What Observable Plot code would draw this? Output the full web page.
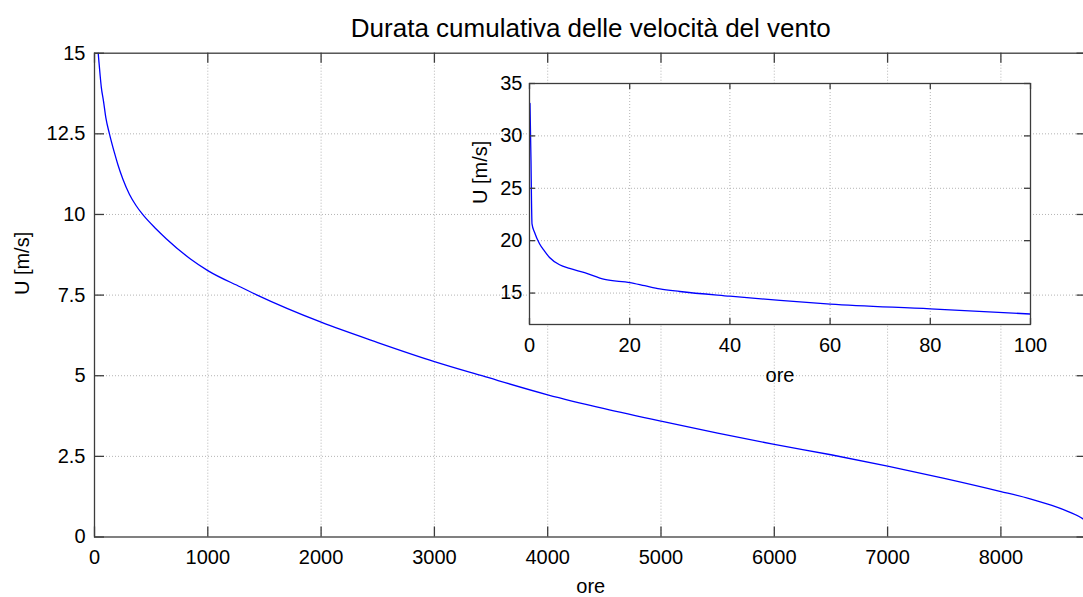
<!DOCTYPE html>
<html>
<head>
<meta charset="utf-8">
<script src="https://cdn.jsdelivr.net/npm/d3@7"></script>
<script src="https://cdn.jsdelivr.net/npm/@observablehq/plot@0.6"></script>
<style>
  html, body { margin: 0; padding: 0; background: white; overflow: hidden; }
  #wrap { position: relative; width: 1083px; height: 597px; overflow: hidden; }
  #inset { position: absolute; left: 440px; top: 60px; }
</style>
</head>
<body>
<div id="wrap"><div id="main"></div><div id="inset"></div></div>
<script>
// ---- data ----
const hours = [0.1, 0.3, 0.4, 0.5, 1, 2, 3, 4, 6, 8, 11, 15, 20, 23, 26, 30, 40, 50, 60, 80, 100,
  132, 177, 206, 250, 309, 368, 425, 544, 633, 847, 1000, 1289, 1436, 2000, 2500, 3000, 3420, 4000, 4500, 5000,
  5500, 6000, 6500, 7000, 7500, 8000, 8250, 8450, 8600, 8730, 8760];
const speed = [33.1, 27.6, 23.8, 21.6, 20.8, 19.7, 19.0, 18.4, 17.7, 17.35, 16.95, 16.3, 16.0, 15.7, 15.4, 15.15, 14.7, 14.3, 13.95, 13.5, 13.0,
  12.5, 11.9, 11.55, 11.1, 10.62, 10.27, 10.0, 9.55, 9.25, 8.62, 8.26, 7.75, 7.5, 6.66, 6.03, 5.44, 5.0, 4.41, 3.98, 3.59,
  3.22, 2.87, 2.55, 2.20, 1.82, 1.41, 1.19, 0.98, 0.78, 0.55, 0.47];

const mainXTicks = [0, 1000, 2000, 3000, 4000, 5000, 6000, 7000, 8000];
const mainYTicks = [0, 2.5, 5, 7.5, 10, 12.5, 15];
const mainYTickLabels = ["0", "2.5", "5", "7.5", "10", "12.5", "15"];
const insetXTicks = [0, 20, 40, 60, 80, 100];
const insetYTicks = [15, 20, 25, 30, 35];

const title = "Durata cumulativa delle velocità del vento";
const xLabel = "ore";
const yLabel = "U [m/s]";

const data = hours.map((h, i) => ({h, u: speed[i]}));
const insetData = data.filter(d => d.h <= 100);

const FONT = "'Liberation Sans', Arial, Helvetica, sans-serif";
const gridStyle = {stroke: "#b4b4b4", strokeWidth: 1, strokeDasharray: "1,2"};
const axisColor = "#3c3c3c";
const lineStyle = {stroke: "#0000ff", strokeWidth: 1.3, curve: "monotone-x", clip: true};

// ---- main chart ----
const M = {left: 94, right: 13.5, top: 52.7, bottom: 60.5, width: 1100, height: 597};
const MW = M.width - M.left - M.right, MH = M.height - M.top - M.bottom;

const mainPlot = Plot.plot({
  width: M.width, height: M.height,
  marginLeft: M.left, marginRight: M.right, marginTop: M.top, marginBottom: M.bottom,
  x: {domain: [0, 8760], axis: null},
  y: {domain: [0, 15], axis: null},
  style: {fontFamily: FONT, fontSize: "20px", background: "white", maxWidth: "none", overflow: "visible", color: "black"},
  marks: [
    Plot.ruleX(mainXTicks.slice(1), {x: d => d, ...gridStyle}),
    Plot.ruleY(mainYTicks.slice(1, -1), {y: d => d, ...gridStyle}),
    Plot.line(data, {x: "h", y: "u", ...lineStyle}),
    Plot.frame({stroke: axisColor, strokeWidth: 1.3}),
    Plot.ruleX(mainXTicks, {x: d => d, insetTop: MH - 10, stroke: axisColor, strokeWidth: 1.3}),
    Plot.ruleX(mainXTicks, {x: d => d, insetBottom: MH - 10, stroke: axisColor, strokeWidth: 1.3}),
    Plot.ruleY(mainYTicks, {y: d => d, insetRight: MW - 10, stroke: axisColor, strokeWidth: 1.3}),
    Plot.ruleY(mainYTicks, {y: d => d, insetLeft: MW - 10, stroke: axisColor, strokeWidth: 1.3}),
    Plot.text(mainXTicks, {x: d => d, text: d => String(d), frameAnchor: "bottom", dy: 20.5, lineAnchor: "middle", fontSize: 20, fill: "black"}),
    Plot.text(mainYTicks, {y: d => d, text: (d, i) => mainYTickLabels[i], frameAnchor: "left", dx: -9, textAnchor: "end", lineAnchor: "middle", fontSize: 20, fill: "black"}),
    Plot.text([xLabel], {text: d => d, frameAnchor: "bottom", dy: 50, lineAnchor: "middle", fontSize: 20, fill: "black"}),
    Plot.text([yLabel], {text: d => d, frameAnchor: "left", dx: -72, rotate: -90, lineAnchor: "middle", fontSize: 20, fill: "black"}),
    Plot.text([title], {text: d => d, frameAnchor: "top", dy: -25, lineAnchor: "middle", fontSize: 26, fill: "black"})
  ]
});
document.getElementById("main").appendChild(mainPlot);

// ---- inset chart ----
const I = {left: 89, right: 30, top: 23, bottom: 76, width: 620, height: 340};
const IW = I.width - I.left - I.right, IH = I.height - I.top - I.bottom;

const insetPlot = Plot.plot({
  width: I.width, height: I.height,
  marginLeft: I.left, marginRight: I.right, marginTop: I.top, marginBottom: I.bottom,
  x: {domain: [0, 100], axis: null},
  y: {domain: [12, 35], axis: null},
  style: {fontFamily: FONT, fontSize: "20px", background: "transparent", maxWidth: "none", overflow: "visible", color: "black"},
  marks: [
    Plot.frame({fill: "white", stroke: null}),
    Plot.ruleX(insetXTicks.slice(1, -1), {x: d => d, ...gridStyle}),
    Plot.ruleY(insetYTicks.slice(0, -1), {y: d => d, ...gridStyle}),
    Plot.line(insetData, {x: "h", y: "u", ...lineStyle}),
    Plot.frame({stroke: axisColor, strokeWidth: 1.3}),
    Plot.ruleX(insetXTicks, {x: d => d, insetTop: IH - 6, stroke: axisColor, strokeWidth: 1.3}),
    Plot.ruleX(insetXTicks, {x: d => d, insetBottom: IH - 6, stroke: axisColor, strokeWidth: 1.3}),
    Plot.ruleY(insetYTicks, {y: d => d, insetRight: IW - 6, stroke: axisColor, strokeWidth: 1.3}),
    Plot.ruleY(insetYTicks, {y: d => d, insetLeft: IW - 6, stroke: axisColor, strokeWidth: 1.3}),
    Plot.text(insetXTicks, {x: d => d, text: d => String(d), frameAnchor: "bottom", dy: 21, lineAnchor: "middle", fontSize: 20, fill: "black"}),
    Plot.text(insetYTicks, {y: d => d, text: d => String(d), frameAnchor: "left", dx: -7, textAnchor: "end", lineAnchor: "middle", fontSize: 20, fill: "black"}),
    Plot.text([xLabel], {text: d => d, frameAnchor: "bottom", dy: 51, lineAnchor: "middle", fontSize: 20, fill: "black"}),
    Plot.text([yLabel], {text: d => d, frameAnchor: "left", dx: -49, rotate: -90, lineAnchor: "middle", fontSize: 20, fill: "black"})
  ]
});
document.getElementById("inset").appendChild(insetPlot);
</script>
</body>
</html>
